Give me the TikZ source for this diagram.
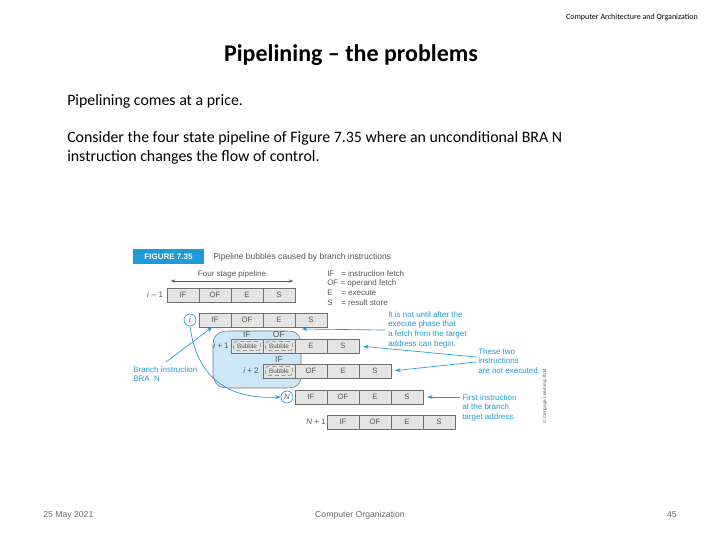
\documentclass[tikz,border=0pt]{standalone}
\usepackage{fontspec}
\setmainfont{Carlito}
\newfontfamily\figfont{Liberation Sans}
\usetikzlibrary{arrows.meta,calc}
\definecolor{figblue}{HTML}{1E9BD7}
\definecolor{cellfill}{HTML}{E4E4E4}
\definecolor{cellline}{HTML}{707070}
\definecolor{blobfill}{HTML}{CDE7F7}
\definecolor{figgray}{HTML}{555555}
\definecolor{footgray}{HTML}{6A6A6A}
\begin{document}
\begin{tikzpicture}[x=0.75pt,y=-0.75pt,
  figtext/.style={font=\figfont\fontsize{6}{7.3}\selectfont, text=figgray, inner sep=0},
  legtext/.style={font=\figfont\fontsize{6}{7.3}\selectfont, text=figgray, inner sep=0, anchor=west},
  cell/.style={draw=cellline, line width=0.5pt, fill=cellfill, minimum width=24pt, minimum height=10.5pt, inner sep=0, font=\figfont\fontsize{5.8}{6}\selectfont, text=figgray},
  bub/.style={draw=cellline, densely dashed, line width=0.4pt, rounded corners=2pt, minimum width=20pt, minimum height=7pt, inner sep=0, font=\figfont\fontsize{4.8}{5}\selectfont, text=figgray},
  note/.style={font=\figfont\fontsize{6}{7.3}\selectfont, text=figblue, align=left, inner sep=0, anchor=north west},
  circ/.style={circle, draw=figblue, line width=0.5pt, fill=white, minimum size=9pt, inner sep=0, font=\figfont\fontsize{5.8}{6}\selectfont\itshape, text=figgray},
  arr/.style={draw=figblue, line width=0.5pt, -{Stealth[length=4pt,width=3pt]}},
  body/.style={font=\fontsize{11.9}{13}\selectfont, anchor=west, inner sep=0}
]
\useasboundingbox (0,0) rectangle (720,540);

% header and text
\node[font=\fontsize{6}{7}\selectfont, anchor=east, inner sep=0] (hdr) at (698,17) {Computer Architecture and Organization};
\node[font=\bfseries\fontsize{18}{21}\selectfont, inner sep=0] (title) at (351,55) {Pipelining -- the problems};
\node[body] (l1) at (67,101) {Pipelining comes at a price.};
\node[body] (l2) at (67,138) {Consider the four state pipeline of Figure 7.35 where an unconditional BRA N};
\node[body] (l3) at (67,157) {instruction changes the flow of control.};

% figure caption
\node[fill=figblue, minimum width=53pt, minimum height=11.25pt, inner sep=0, text=white, font=\figfont\bfseries\fontsize{6}{7}\selectfont] (figlab) at (168.5,256.5) {FIGURE 7.35};
\node[figtext, anchor=west, font=\figfont\fontsize{6.4}{7}\selectfont] (figcap) at (213,257) {Pipeline bubbles caused by branch instructions};

% four stage pipeline
\node[figtext] (fsp) at (232,274) {Four stage pipeline};
\coordinate (fspl) at (171,281);
\coordinate (fspr) at (293,281);
\draw[draw=figgray, line width=0.4pt, {Stealth[length=3pt,width=2.5pt]}-{Stealth[length=3pt,width=2.5pt]}] (fspl) -- (fspr);

% legend
\node[legtext] (leg1) at (327,274) {\makebox[10.5pt][l]{IF}= instruction fetch};
\node[legtext] (leg2) at (327,283.5) {\makebox[10pt][l]{OF}= operand fetch};
\node[legtext] (leg3) at (327,293) {\makebox[10.5pt][l]{E}= execute};
\node[legtext] (leg4) at (327,302.5) {\makebox[10.5pt][l]{S}= result store};

% blob
\path[fill=blobfill, draw=cellline, line width=0.4pt]
  (213,345) .. controls (213,336) and (218,331) .. (228,331)
  -- (288,331) .. controls (298,331) and (301,337) .. (301,345)
  -- (301,375) .. controls (301,385) and (296,388) .. (286,388)
  -- (228,388) .. controls (217,388) and (213,382) .. (213,372) -- cycle;

% row i-1
\node[figtext] (lim1) at (155,295) {\itshape i\upshape\ -- 1};
\node[cell] (am1) at (183,295) {IF};
\node[cell] (bm1) at (215,295) {OF};
\node[cell] (cm1) at (247,295) {E};
\node[cell] (dm1) at (279,295) {S};

% row i
\node[circ] (ci) at (190,320) {i};
\node[cell] (a0) at (215,320) {IF};
\node[cell] (b0) at (247,320) {OF};
\node[cell] (c0) at (279,320) {E};
\node[cell] (d0) at (311,320) {S};

% row i+1
\node[figtext] (lip1) at (221,346) {\itshape i\upshape\ + 1};
\node[cell] (a1) at (247,346) {};
\node[bub] (a1b) at (247,346) {Bubble};
\node[cell] (b1) at (279,346) {};
\node[bub] (b1b) at (279,346) {Bubble};
\node[cell] (c1) at (311,346) {E};
\node[cell] (d1) at (343,346) {S};
\node[figtext, font=\figfont\fontsize{6.5}{7}\selectfont] (if1) at (247,334.5) {IF};
\node[figtext, font=\figfont\fontsize{6.5}{7}\selectfont] (of1) at (279,334.5) {OF};

% row i+2
\node[figtext] (lip2) at (251,371) {\itshape i\upshape\ + 2};
\node[cell] (a2) at (279,371) {};
\node[bub] (a2b) at (279,371) {Bubble};
\node[cell] (b2) at (311,371) {OF};
\node[cell] (c2) at (343,371) {E};
\node[cell] (d2) at (375,371) {S};
\node[figtext, font=\figfont\fontsize{6.5}{7}\selectfont] (if2) at (279,359.5) {IF};

% row N
\node[circ] (cN) at (287,397) {N};
\node[cell] (aN) at (311,397) {IF};
\node[cell] (bN) at (343,397) {OF};
\node[cell] (cN2) at (375,397) {E};
\node[cell] (dN) at (407,397) {S};

% row N+1
\node[figtext] (lNp1) at (316,422) {\itshape N\upshape\ + 1};
\node[cell] (aN1) at (343,422) {IF};
\node[cell] (bN1) at (375,422) {OF};
\node[cell] (cN1) at (407,422) {E};
\node[cell] (dN1) at (439,422) {S};

% annotations
\node[note] (n1) at (388,311) {It is not until after the\\execute phase that\\a fetch from the target\\address can begin.};
\node[note] (n2) at (478,348) {These two\\instructions\\are not executed.};
\node[note] (n3) at (462,394) {First instruction\\at the branch\\target address.};
\node[note] (n4) at (133,366) {Branch instruction\\BRA\ \ N};
\node[figtext, font=\figfont\fontsize{3.5}{4}\selectfont, rotate=90] (copy) at (545,396) {\textcopyright\ Cengage Learning 2014};

% connectors
\coordinate (n1s) at (385,330);
\coordinate (n1t) at (302,329);
\draw[arr] (n1s) -- (n1t);
\coordinate (n2a) at (476,357);
\coordinate (n2b) at (476,362);
\draw[arr, shorten >=3pt] (n2a) -- (d1.east);
\draw[arr, shorten >=3pt] (n2b) -- (d2.east);
\coordinate (n3s) at (460,397);
\draw[arr, shorten >=3pt] (n3s) -- (dN.east);
\coordinate (n4s) at (166,362);
\coordinate (n4t) at ($(a0.south)+(-3,0)$);
\draw[arr] (n4s) -- (n4t);
\draw[arr] (ci.south) .. controls (196,370) and (220,400) .. (cN.west);

% footer
\node[font=\figfont\fontsize{6.5}{7}\selectfont, text=footgray, anchor=west, inner sep=0] (date) at (43,515) {25 May 2021};
\node[font=\figfont\fontsize{6.5}{7}\selectfont, text=footgray, inner sep=0] (foot) at (360,515) {Computer Organization};
\node[font=\figfont\fontsize{6.5}{7}\selectfont, text=footgray, anchor=east, inner sep=0] (page) at (677,515) {45};
\end{tikzpicture}
\end{document}
